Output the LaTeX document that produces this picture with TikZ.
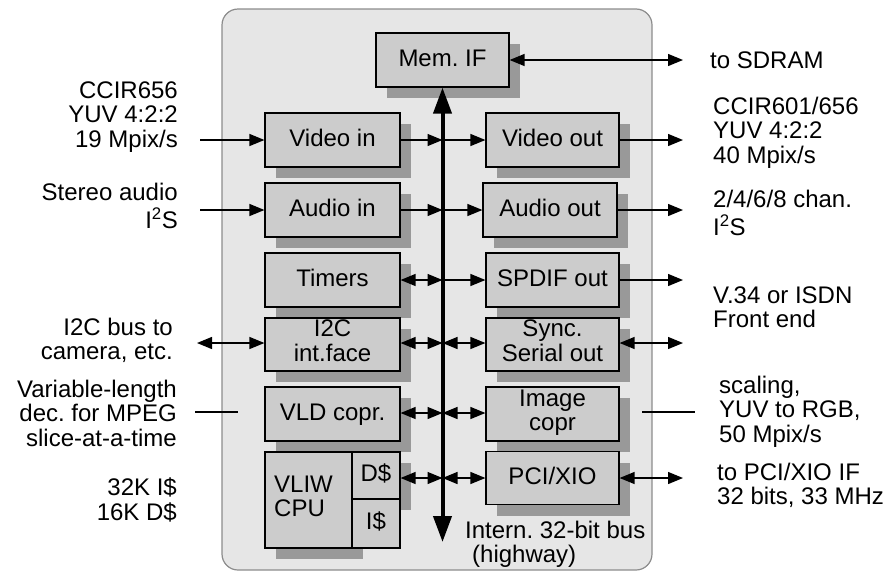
\documentclass[tikz,border=0pt]{standalone}
\usepackage{fontspec}
\setmainfont{Liberation Sans}
\usetikzlibrary{arrows.meta,shadows}
\definecolor{panelfill}{HTML}{E6E6E6}
\definecolor{panelline}{HTML}{8C8C8C}
\definecolor{blockfill}{HTML}{CCCCCC}
\definecolor{blockshade}{HTML}{999999}
\frenchspacing
\newcommand{\lines}[2]{\begin{tabular}[t]{@{}#1@{}}#2\end{tabular}}
\newcommand{\inlines}[2]{\begin{tabular}{@{}#1@{}}#2\end{tabular}}
\begin{document}
\begin{tikzpicture}[x=1pt,y=-1pt,
  txt/.style={font=\fontsize{24}{24.5}\selectfont, inner sep=0pt},
  panel/.style={draw=panelline, line width=1.2pt, fill=panelfill, rounded corners=16pt},
  block/.style={txt, draw=black, line width=1.2pt, fill=blockfill,
    text height=17pt, text depth=5pt,
    drop shadow={shadow xshift=11pt, shadow yshift=-11pt, fill=blockshade, opacity=1}},
  cell/.style={txt, draw=black, line width=1.2pt, fill=blockfill,
    text height=17pt, text depth=5pt},
  tip/.tip={Triangle[length=15pt,width=12pt]},
  bigtip/.tip={Triangle[length=26pt,width=18pt]},
  wire/.style={line width=1.3pt, -tip},
  dwire/.style={line width=1.3pt, tip-tip},
  plainwire/.style={line width=1.3pt},
  busline/.style={line width=4pt, bigtip-bigtip}]
\useasboundingbox (0,0) rectangle (891,571);

% chip outline
\node[panel, minimum width=430pt, minimum height=561pt] (chip) at (437,289.5) {};

% on-chip blocks
\node[block, minimum width=133pt, minimum height=54pt] (mem) at (442.5,60) {Mem. IF};
\node[block, minimum width=135pt, minimum height=54pt] (vin) at (332.5,140) {Video in};
\node[block, minimum width=133pt, minimum height=54pt] (vout) at (552.5,140) {Video out};
\node[block, minimum width=135pt, minimum height=54pt] (ain) at (332.5,210) {Audio in};
\node[block, minimum width=134pt, minimum height=54pt] (aout) at (550,210) {Audio out};
\node[block, minimum width=135pt, minimum height=54pt] (tim) at (332.5,280) {Timers};
\node[block, minimum width=133pt, minimum height=54pt] (spdif) at (552.5,280) {SPDIF out};
\node[block, minimum width=135pt, minimum height=53pt] (i2c) at (332.5,344.5) {\inlines{c}{I2C\\int.face}};
\node[block, minimum width=133pt, minimum height=53pt] (sync) at (552.5,344.5) {\inlines{c}{Sync.\\Serial out}};
\node[block, minimum width=135pt, minimum height=54pt] (vld) at (332.5,414) {VLD copr.};
\node[block, minimum width=133pt, minimum height=54pt] (img) at (552.5,414) {\inlines{c}{Image\\copr}};
\node[block, minimum width=87pt, minimum height=96pt] (cpu) at (308.5,500) {};
\node[block, minimum width=48pt, minimum height=47pt] (dc) at (376,475.5) {D\$};
\node[cell, minimum width=48pt, minimum height=49pt] (ic) at (376,523.5) {I\$};
\node[txt, text height=17pt, text depth=5pt, anchor=west] (cputxt) at (274,500) {\inlines{l}{VLIW\\CPU}};
\node[block, minimum width=133pt, minimum height=53pt] (pci) at (552.5,478) {PCI/XIO};

% taps on the internal bus
\coordinate (b1) at (442.5,140);
\coordinate (b2) at (442.5,210);
\coordinate (b3) at (442.5,280);
\coordinate (b4) at (442.5,343);
\coordinate (b5) at (442.5,413);
\coordinate (b6) at (442.5,478);
\coordinate (busend) at (442.5,542);

% off-chip ends
\coordinate (sdram) at (683,60);
\coordinate (vsrc) at (200,140);
\coordinate (vdst) at (683,140);
\coordinate (asrc) at (200,210);
\coordinate (adst) at (683,210);
\coordinate (sdst) at (683,280);
\coordinate (i2cext) at (197,343);
\coordinate (syncext) at (683,343);
\coordinate (vldA) at (195,412);
\coordinate (vldB) at (238,412);
\coordinate (imgA) at (642,412);
\coordinate (imgB) at (695,412);
\coordinate (pciext) at (683,478);

% bus connections
\draw[wire] (vin.east) -- (b1);
\draw[wire] (b1) -- (vout.west);
\draw[wire] (ain.east) -- (b2);
\draw[wire] (b2) -- (aout.west);
\draw[dwire] (tim.east) -- (b3);
\draw[wire] (b3) -- (spdif.west);
\draw[dwire] (i2c.east |- b4) -- (b4);
\draw[dwire] (b4) -- (sync.west |- b4);
\draw[dwire] (vld.east |- b5) -- (b5);
\draw[dwire] (b5) -- (img.west |- b5);
\draw[dwire] (dc.east |- b6) -- (b6);
\draw[dwire] (b6) -- (pci.west |- b6);

% external connections
\draw[dwire] (mem.east) -- (sdram);
\draw[wire] (vsrc) -- (vin.west);
\draw[wire] (vout.east) -- (vdst);
\draw[wire] (asrc) -- (ain.west);
\draw[wire] (aout.east) -- (adst);
\draw[wire] (spdif.east) -- (sdst);
\draw[dwire] (i2cext) -- (i2c.west |- i2cext);
\draw[dwire] (sync.east |- syncext) -- (syncext);
\draw[plainwire] (vldA) -- (vldB);
\draw[plainwire] (imgA) -- (imgB);
\draw[dwire] (pci.east |- pciext) -- (pciext);

% internal bus
\draw[busline] (busend) -- (mem.south);

% annotations
\node[txt, anchor=base west] (tsdram) at (710,68) {to SDRAM};
\node[txt, anchor=base west] (tvout) at (713,114) {\lines{l}{CCIR601/656\\YUV 4:2:2\\40 Mpix/s}};
\node[txt, anchor=base west] (taout) at (713,207) {\lines{l}{2/4/6/8 chan.\\I\textsuperscript{2}S}};
\node[txt, anchor=base west] (tspdif) at (713,303) {\lines{l}{V.34 or ISDN\\Front end}};
\node[txt, anchor=base west] (timg) at (719,393) {\lines{l}{scaling,\\YUV to RGB,\\50 Mpix/s}};
\node[txt, anchor=base west] (tpci) at (717,480) {\lines{l}{to PCI/XIO IF\\32 bits, 33 MHz}};
\node[txt, anchor=base east] (tvin) at (178,98) {\lines{r}{CCIR656\\YUV 4:2:2\\19 Mpix/s}};
\node[txt, anchor=base east] (tain) at (178,200) {\lines{r}{Stereo audio\\I\textsuperscript{2}S}};
\node[txt, anchor=base east] (ti2c) at (173,335) {\lines{r}{I2C bus to\\camera, etc.}};
\node[txt, anchor=base east] (tvld) at (177,397) {\lines{r}{Variable-length\\dec. for MPEG\\slice-at-a-time}};
\node[txt, anchor=base east] (tcpu) at (177,495) {\lines{r}{32K I\$\\16K D\$}};
\node[txt, anchor=base west] (tbus) at (465,538) {\lines{l}{Intern. 32-bit bus\\\hspace*{7pt}(highway)}};
\end{tikzpicture}
\end{document}
